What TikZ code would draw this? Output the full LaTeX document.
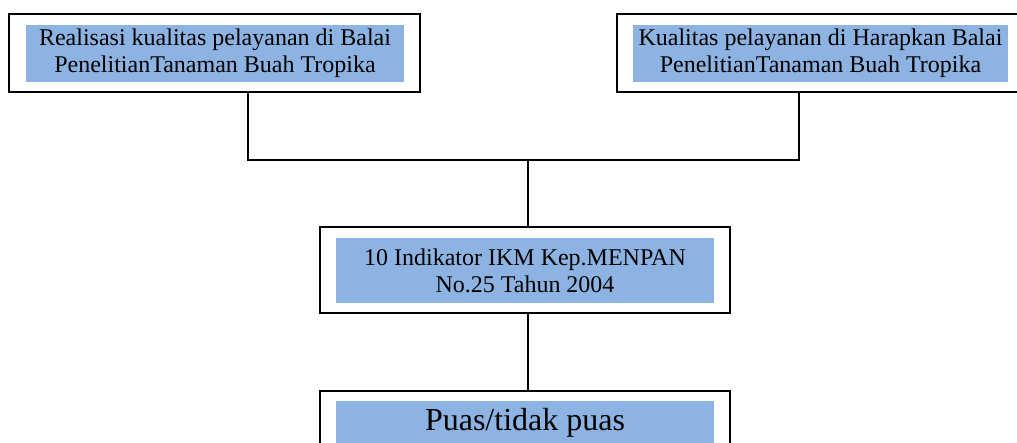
\documentclass[tikz,border=0pt]{standalone}
\usepackage{fontspec}
\setmainfont{Liberation Serif}
\begin{document}
\begin{tikzpicture}[x=1pt,y=-1pt,
  outerbox/.style={draw=black,line width=1.8pt,fill=white,rectangle,inner sep=0pt},
  bluebox/.style={fill=blueC,rectangle,inner sep=0pt,align=center,text=black,font=\fontsize{24}{27}\selectfont},
  conn/.style={draw=black,line width=1.8pt}]
\definecolor{blueC}{HTML}{8DB3E2}
\useasboundingbox (0,0) rectangle (1017,443);
\clip (0,0) rectangle (1017,443);
% boxes
\node[outerbox,minimum width=411,minimum height=78] (b1) at (214.5,53) {};
\node[bluebox,minimum width=378,minimum height=57] (b1t) at (215,53.5) {Realisasi kualitas pelayanan di Balai\\PenelitianTanaman Buah Tropika};
\node[outerbox,minimum width=408,minimum height=78] (b2) at (821,53) {};
\node[bluebox,minimum width=375,minimum height=57] (b2t) at (820.5,53.5) {Kualitas pelayanan di Harapkan Balai\\PenelitianTanaman Buah Tropika};
\node[outerbox,minimum width=410,minimum height=86] (b3) at (525,270) {};
\node[bluebox,minimum width=378,minimum height=65] (b3t) at (525,270.5) {10 Indikator IKM Kep.MENPAN\\No.25 Tahun 2004};
\node[outerbox,minimum width=410,minimum height=86] (b4) at (525,434) {};
\node[bluebox,minimum width=378,text height=29,text depth=36,anchor=north,font=\fontsize{32}{36}\selectfont] (b4t) at (525,401) {Puas/tidak puas};
% connectors
\coordinate (p1) at (248,160);
\coordinate (p2) at (799,160);
\coordinate (j) at (528,160);
\draw[conn] (b1.south -| p1) -- (p1) -- (p2) -- (b2.south -| p2);
\draw[conn] (j) -- (b3.north -| j);
\draw[conn] (b3.south -| j) -- (b4.north -| j);
\end{tikzpicture}
\end{document}
